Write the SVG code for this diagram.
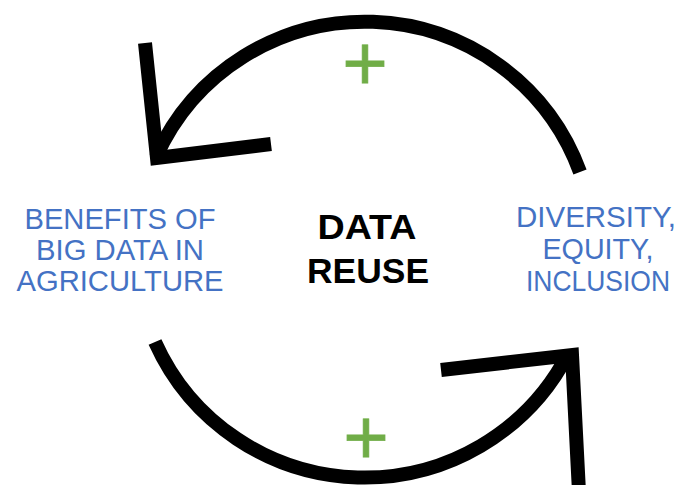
<svg xmlns="http://www.w3.org/2000/svg" width="678" height="485" viewBox="0 0 678 485">
  <style>
    .loop { fill: none; stroke: #000; stroke-width: 14; stroke-linecap: butt; stroke-linejoin: miter; stroke-miterlimit: 10; }
    .side { font-family: "Liberation Sans", Arial, sans-serif; font-size: 30px; fill: #4472C4; text-anchor: middle; }
    .core { font-family: "Liberation Sans", Arial, sans-serif; font-size: 35px; font-weight: bold; fill: #000; text-anchor: middle; }
    .plus { font-family: "Liberation Sans", Arial, sans-serif; font-size: 78px; fill: #70AD47; stroke: #70AD47; stroke-width: 0.8; text-anchor: middle; }
  </style>
  <rect width="678" height="485" fill="#fff"/>
  <g id="connectors">
    <path class="loop" d="M 580 172 A 229 229 0 0 0 156 157"/>
    <polyline class="loop" points="145,43 157,158 271,144"/>
    <path class="loop" d="M 155 342 A 229.5 229.5 0 0 0 568 354"/>
    <polyline class="loop" points="441,370 572,355 579,492"/>
  </g>
  <g id="label-top-plus">
    <text class="plus" x="365" y="89.5">+</text>
  </g>
  <g id="label-bottom-plus">
    <text class="plus" x="366" y="463.5">+</text>
  </g>
  <g id="node-benefits">
    <text class="side" x="120" y="229" textLength="191" lengthAdjust="spacingAndGlyphs">BENEFITS OF</text>
    <text class="side" x="120" y="260" textLength="168" lengthAdjust="spacingAndGlyphs">BIG DATA IN</text>
    <text class="side" x="120" y="291" textLength="207" lengthAdjust="spacingAndGlyphs">AGRICULTURE</text>
  </g>
  <g id="node-data-reuse">
    <text class="core" x="367" y="239" textLength="99" lengthAdjust="spacingAndGlyphs">DATA</text>
    <text class="core" x="368" y="283" textLength="122" lengthAdjust="spacingAndGlyphs">REUSE</text>
  </g>
  <g id="node-dei">
    <text class="side" x="596" y="227" textLength="160" lengthAdjust="spacingAndGlyphs">DIVERSITY,</text>
    <text class="side" x="598" y="259" textLength="111" lengthAdjust="spacingAndGlyphs">EQUITY,</text>
    <text class="side" x="598" y="291" textLength="144" lengthAdjust="spacingAndGlyphs">INCLUSION</text>
  </g>
</svg>
